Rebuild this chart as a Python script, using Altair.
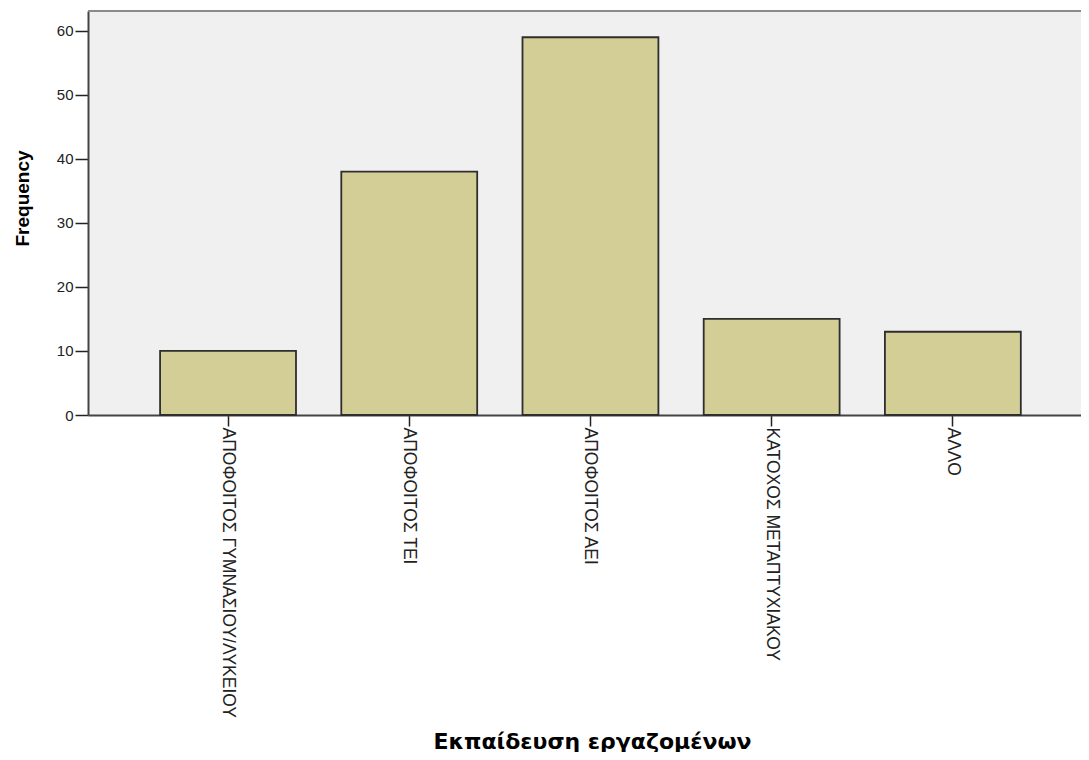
import altair as alt
import pandas as pd

categories = [
    "ΑΠΟΦΟΙΤΟΣ ΓΥΜΝΑΣΙΟΥ/ΛΥΚΕΙΟΥ",
    "ΑΠΟΦΟΙΤΟΣ ΤΕΙ",
    "ΑΠΟΦΟΙΤΟΣ ΑΕΙ",
    "ΚΑΤΟΧΟΣ ΜΕΤΑΠΤΥΧΙΑΚΟΥ",
    "ΑΛΛΟ",
]
frequencies = [10, 38, 59, 15, 13]
y_ticks = [0, 10, 20, 30, 40, 50, 60]

df = pd.DataFrame({"cat": categories, "freq": frequencies})

W = 993
H = 404
FONT = "Liberation Sans"

bars = alt.Chart(df).mark_bar(
    color="#d3ce96", stroke="#2e2e2e", strokeWidth=1.8
).encode(
    x=alt.X(
        "cat:N",
        sort=None,
        scale=alt.Scale(paddingInner=0.25, paddingOuter=0.365, align=0.545),
        axis=alt.Axis(
            title="Εκπαίδευση εργαζομένων",
            labelAngle=90,
            labelAlign="left",
            labelBaseline="middle",
            labelFontSize=17.5,
            labelFont=FONT,
            labelColor="#222222",
            labelPadding=1,
            labelLimit=400,
            tickSize=11,
            tickColor="#222222",
            tickWidth=1.5,
            domainColor="#444444",
            domainWidth=2,
            titleFont="DejaVu Sans",
            titleFontSize=22,
            titleFontWeight="bold",
            titleColor="#000000",
            titleBaseline="alphabetic",
            titleAlign="center",
            titleX=504,
            titleY=333,
        ),
    ),
    y=alt.Y(
        "freq:Q",
        scale=alt.Scale(domain=[0, 63.1], nice=False),
        axis=alt.Axis(
            title="Frequency",
            values=y_ticks,
            grid=False,
            labelFontSize=15,
            labelFont=FONT,
            labelColor="#222222",
            labelPadding=2,
            tickSize=13,
            tickColor="#222222",
            tickWidth=1.5,
            domainColor="#444444",
            domainWidth=2,
            titleFont=FONT,
            titleFontSize=19,
            titleFontWeight="bold",
            titleColor="#000000",
            titleAngle=-90,
            titleAlign="center",
            titleBaseline="middle",
            titleX=-66,
            titleY=187,
        ),
    ),
)

frame = alt.Chart(df).mark_rule(color="#8a8a8a", strokeWidth=2).encode(
    x=alt.value(0), x2=alt.value(W), y=alt.value(0)
)

chart = alt.layer(bars, frame).properties(
    width=W,
    height=H,
    autosize=alt.AutoSizeParams(type="none"),
    padding={"left": 80, "top": 3, "right": 0, "bottom": 337},
    background="white",
).configure_view(fill="#f0f0f0", stroke=None)

chart.save("out.html", embed_options={"renderer": "svg", "actions": False})
